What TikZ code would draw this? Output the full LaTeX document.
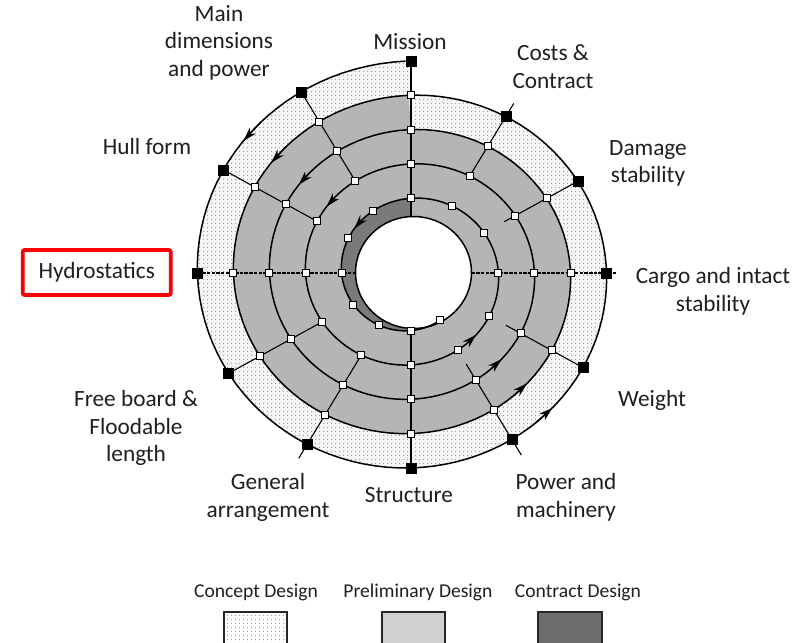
\documentclass[tikz,border=0pt]{standalone}
\usepackage{fontspec}
\setmainfont{Carlito}
\usepackage{tikz}
\usetikzlibrary{arrows.meta, patterns.meta}

\tikzset{
  aspect/.style={font=\fontsize{23.3}{27.5}\selectfont, text=black!88, align=center, inner sep=0pt},
  legendtxt/.style={font=\fontsize{19.6}{22}\selectfont, text=black!88, inner sep=0pt},
  wsq/.style={draw=black, fill=white, line width=1pt, minimum size=7pt, inner sep=0pt},
  bsq/.style={draw=black, fill=black, minimum size=10pt, inner sep=0pt},
  ring/.style={line width=1.5pt},
  spoke/.style={line width=1.1pt},
  axisline/.style={line width=1.1pt, dash pattern=on 3.5pt off 1.2pt},
  flow/.style={-{Stealth[length=14pt,width=8.5pt]}, line width=1.2pt},
  swatch/.style={draw=black!85, line width=1.6pt},
  dotfill/.style={pattern={Dots[distance=4pt, radius=0.65pt]}, pattern color=black!42},
}

\begin{document}
\begin{tikzpicture}[x=1pt, y=-1pt]
\clip (0,0) rectangle (804,643);

% spiral bands, concept outside, preliminary, contract
\begin{scope}[shift={(411,273)}, xscale=1.06, yscale=-1.01]
  \fill[black!4] plot[domain=3:4, samples=150, variable=\t] ({90-360*\t}:{74+34*\t}) -- cycle;
  \fill[dotfill] plot[domain=3:4, samples=150, variable=\t] ({90-360*\t}:{74+34*\t}) -- cycle;
  \fill[black!29] plot[domain=2:3, samples=150, variable=\t] ({90-360*\t}:{74+34*\t}) -- cycle;
  \fill[black!52] plot[domain=-0.58:0, samples=80, variable=\t] ({90-360*\t}:{74+34*\t}) -- (0,0) -- cycle;
\end{scope}

% hole
\filldraw[fill=white, ring] (413.5,272.5) ellipse [x radius=58, y radius=56];

\begin{scope}[shift={(411,273)}, xscale=1.06, yscale=-1.01]
  % the spiral
  \draw[ring] plot[domain=-0.58:4, samples=500, variable=\t] ({90-360*\t}:{74+34*\t});
  % main axes
  \draw[spoke] (90:210) -- (90:56);
  \draw[spoke] (270:57) -- (270:193);
  \draw[axisline] (180:201.5) -- (180:52.4);
  \draw[axisline] (0:57.1) -- (0:193);
  % diagonal spokes: k / inner overshoot / outer overshoot
  \foreach \k/\ei/\eo in {1/0/15, 2/12/0, 4/16/0, 5/18/18, 7/0/16, 8/0/0, 10/0/0, 11/0/0}{
    \pgfmathsetmacro\tin{\k<6 ? \k/12+1 : \k/12}
    \pgfmathsetmacro\tout{\k/12+3}
    \draw[spoke] ({90-30*\k}:{74+34*\tin-\ei}) -- ({90-30*\k}:{74+34*\tout+\eo});
  }
  % crossing marks
  \foreach \k in {1,...,12}{
    \pgfmathtruncatemacro\nstart{\k<5 ? 0 : -1}
    \foreach \n in {\nstart,...,2}{
      \node[wsq] (m\k\n) at ({90-30*\k}:{74+34*(\k/12+\n)}) {};
    }
    \node[bsq] (o\k) at ({90-30*\k}:{74+34*(\k/12+3)}) {};
  }
  % direction of the spiral
  \foreach \t in {-0.14, 0.86, 1.86, 2.86, 3.86, 0.375, 1.375, 2.375, 3.375}{
    \draw[flow] ({90-360*(\t+0.02)}:{74+34*(\t+0.02)}) -- ({90-360*\t}:{74+34*\t});
  }
\end{scope}

% aspects
\node[aspect] (mission) at (410,42) {Mission};
\node[aspect] (costs) at (553,66.5) {Costs \&\\Contract};
\node[aspect] (damage) at (648,163.3) {Damage\\stability};
\node[aspect] (cargo) at (713,291.3) {Cargo and intact\\stability};
\node[aspect] (weight) at (652,400) {Weight};
\node[aspect] (power) at (566,497.5) {Power and\\machinery};
\node[aspect] (structure) at (409,495) {Structure};
\node[aspect] (general) at (268,497.5) {General\\arrangement};
\node[aspect] (freeboard) at (136,428) {Free board \&\\Floodable\\length};
\node[aspect, draw=red, line width=3.8pt, rounded corners=2pt, minimum width=148pt, minimum height=45pt] (hydro) at (96.7,272.5) {Hydrostatics};
\node[aspect] (hull) at (147,146) {Hull form};
\node[aspect] (maindim) at (219,42.5) {Main\\dimensions\\and power};

% legend
\node[legendtxt] (concept) at (256,592) {Concept Design};
\node[legendtxt] (prelim) at (418,592) {Preliminary Design};
\node[legendtxt] (contract) at (578,592) {Contract Design};
\fill[white] (224,612) rectangle (287,660);
\fill[dotfill] (224,612) rectangle (287,660);
\draw[swatch] (224,612) rectangle (287,660);
\filldraw[swatch, fill=black!18] (382,612) rectangle (445,660);
\filldraw[swatch, fill=black!57] (538,612) rectangle (602,660);
\end{tikzpicture}
\end{document}
